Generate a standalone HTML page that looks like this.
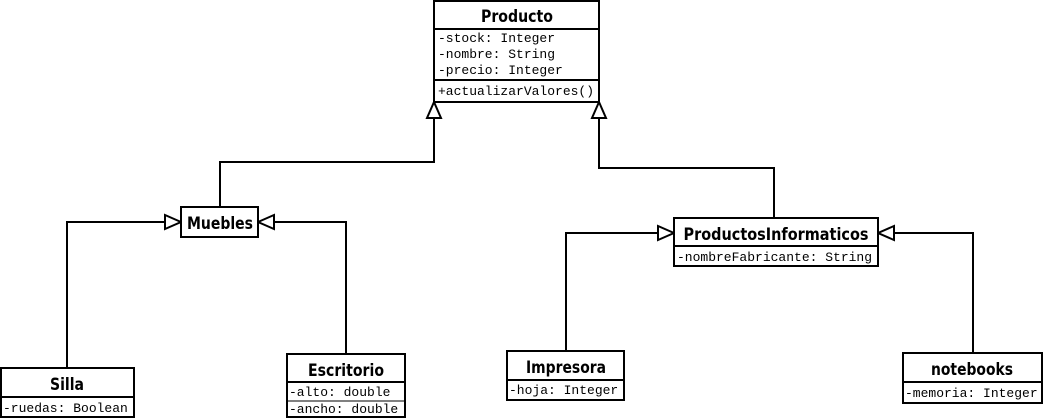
<!DOCTYPE html>
<html><head><style>
html,body{margin:0;padding:0;background:#fff;}
svg{display:block}
.t{font-family:"DejaVu Sans","Liberation Sans",sans-serif;font-weight:bold;font-size:17px;fill:#000}
.a{font-family:"Liberation Mono",monospace;font-size:13px;fill:#000}
</style></head><body>
<svg width="1044" height="420" viewBox="0 0 1044 420" xmlns="http://www.w3.org/2000/svg">
<g fill="none" stroke="#000" stroke-width="2">
<polyline points="434,118 434,162 220,162 220,207"/>
<polyline points="599,118 599,168 774,168 774,218"/>
<polyline points="165,222 67,222 67,368"/>
<polyline points="274,222 346,222 346,354"/>
<polyline points="658,233 566,233 566,351"/>
<polyline points="894,233 973,233 973,353"/>
<polygon points="434,102 427,118 441,118" fill="#fff"/>
<polygon points="599,102 592,118 606,118" fill="#fff"/>
<polygon points="181,222 165,215 165,229" fill="#fff"/>
<polygon points="258,222 274,215 274,229" fill="#fff"/>
<polygon points="674,233 658,226 658,240" fill="#fff"/>
<polygon points="878,233 894,226 894,240" fill="#fff"/>
<rect x="434" y="1" width="165" height="101" fill="#fff"/>
<line x1="434" y1="29" x2="599" y2="29"/>
<line x1="434" y1="80" x2="599" y2="80"/>
<rect x="181" y="207" width="77" height="30" fill="#fff"/>
<rect x="1" y="368" width="133" height="49" fill="#fff"/>
<line x1="1" y1="397" x2="134" y2="397"/>
<rect x="287" y="354" width="118" height="63" fill="#fff"/>
<line x1="287" y1="382" x2="405" y2="382"/>
<rect x="674" y="218" width="204" height="48" fill="#fff"/>
<line x1="674" y1="246" x2="878" y2="246"/>
<rect x="507" y="351" width="117" height="49" fill="#fff"/>
<line x1="507" y1="380" x2="624" y2="380"/>
<rect x="903" y="353" width="139" height="50" fill="#fff"/>
<line x1="903" y1="382" x2="1042" y2="382"/>
</g>
<line x1="288" y1="401" x2="404" y2="401" stroke="#000" stroke-width="1"/>
<text class="t" x="517" y="22" text-anchor="middle" textLength="72" lengthAdjust="spacingAndGlyphs">Producto</text>
<text class="a" x="438" y="42">-stock: Integer</text>
<text class="a" x="438" y="58">-nombre: String</text>
<text class="a" x="438" y="74">-precio: Integer</text>
<text class="a" x="438" y="95">+actualizarValores()</text>
<text class="t" x="220" y="229" text-anchor="middle" textLength="66" lengthAdjust="spacingAndGlyphs">Muebles</text>
<text class="t" x="67" y="390" text-anchor="middle" textLength="34" lengthAdjust="spacingAndGlyphs">Silla</text>
<text class="a" x="3" y="412">-ruedas: Boolean</text>
<text class="t" x="346" y="376" text-anchor="middle" textLength="76" lengthAdjust="spacingAndGlyphs">Escritorio</text>
<text class="a" x="289" y="396">-alto: double</text>
<text class="a" x="289" y="413">-ancho: double</text>
<text class="t" x="776" y="240" text-anchor="middle" textLength="185" lengthAdjust="spacingAndGlyphs">ProductosInformaticos</text>
<text class="a" x="677" y="261">-nombreFabricante: String</text>
<text class="t" x="566" y="373" text-anchor="middle" textLength="80" lengthAdjust="spacingAndGlyphs">Impresora</text>
<text class="a" x="509" y="394">-hoja: Integer</text>
<text class="t" x="972" y="375" text-anchor="middle" textLength="82" lengthAdjust="spacingAndGlyphs">notebooks</text>
<text class="a" x="905" y="397">-memoria: Integer</text>
</svg>
</body></html>
